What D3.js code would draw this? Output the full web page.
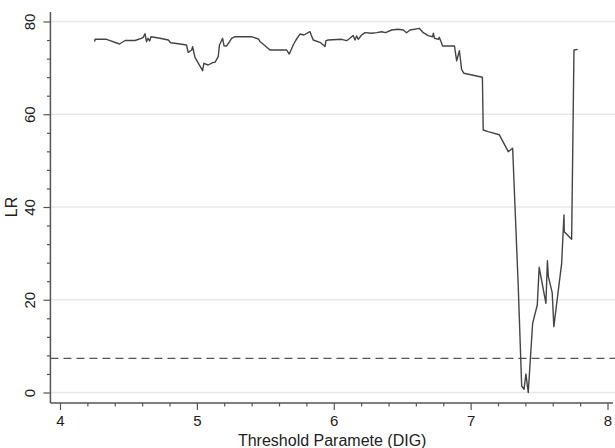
<!DOCTYPE html>
<html>
<head>
<meta charset="utf-8">
<script src="https://cdn.jsdelivr.net/npm/d3@7"></script>
<style>
  body { margin: 0; background: #fff; }
  text { font-family: "Liberation Sans", Arial, sans-serif; fill: #222; }
</style>
</head>
<body>
<svg id="chart" width="615" height="448"></svg>
<script>
// threshold values (x) and LR statistic (y)
var thresholds = [4.253, 4.256, 4.340, 4.435, 4.476, 4.548, 4.594, 4.608, 4.621, 4.632,
  4.643, 4.655, 4.665, 4.730, 4.791, 4.809, 4.877, 4.924, 4.937, 4.962,
  4.969, 4.986, 5.042, 5.051, 5.083, 5.115, 5.132, 5.156, 5.165, 5.188,
  5.198, 5.218, 5.254, 5.278, 5.400, 5.449, 5.461, 5.534, 5.656, 5.675,
  5.704, 5.724, 5.753, 5.782, 5.826, 5.850, 5.904, 5.936, 5.943, 5.960,
  6.058, 6.094, 6.118, 6.142, 6.155, 6.167, 6.179, 6.204, 6.228, 6.277,
  6.313, 6.350, 6.379, 6.423, 6.471, 6.508, 6.532, 6.557, 6.625, 6.654,
  6.690, 6.722, 6.728, 6.736, 6.765, 6.771, 6.788, 6.795, 6.882, 6.898,
  6.918, 6.934, 6.951, 7.044, 7.086, 7.092, 7.128, 7.209, 7.275, 7.307,
  7.348, 7.373, 7.390, 7.404, 7.421, 7.453, 7.487, 7.501, 7.550, 7.561,
  7.568, 7.596, 7.608, 7.665, 7.682, 7.684, 7.738, 7.755, 7.782];

var lrValues = [75.65, 76.16, 76.16, 75.15, 75.90, 75.90, 76.38, 76.59, 77.36, 75.65,
  76.38, 75.80, 76.70, 76.38, 76.01, 75.43, 75.15, 74.93, 73.36, 73.85,
  74.56, 72.28, 69.39, 70.99, 70.62, 71.12, 71.20, 72.41, 74.93, 76.38,
  74.78, 74.72, 76.38, 76.72, 76.72, 76.23, 75.70, 73.85, 73.85, 72.99,
  74.93, 76.01, 77.30, 77.09, 77.80, 76.01, 75.43, 74.60, 75.86, 76.01,
  76.16, 75.86, 76.38, 77.00, 76.01, 76.87, 76.16, 77.09, 77.59, 77.46,
  77.59, 77.80, 77.59, 78.17, 78.32, 78.17, 77.59, 78.17, 78.53, 77.59,
  76.94, 76.72, 77.46, 76.38, 76.16, 76.59, 75.30, 74.72, 74.72, 71.50,
  73.70, 69.69, 68.83, 68.25, 67.97, 56.60, 56.24, 55.59, 51.93, 52.66,
  22.81, 1.40, 0.69, 3.99, 0.00, 14.92, 18.87, 27.00, 19.23, 28.42,
  24.97, 21.52, 14.19, 27.86, 38.27, 34.67, 33.03, 73.85, 73.98];

var criticalValue = 7.35;

var xTicks = [4, 5, 6, 7, 8];
var yTicks = [0, 20, 40, 60, 80];
var xMinor = d3.range(4.2, 8, 0.2).map(function(d) { return +d.toFixed(1); })
  .filter(function(d) { return xTicks.indexOf(d) < 0; });
var yMinor = d3.range(4, 80, 4).filter(function(d) { return d % 20 !== 0; });

var svg = d3.select("#chart");

var x = d3.scaleLinear().domain([4, 8]).range([60, 607.5]);
var y = d3.scaleLinear().domain([0, 80]).range([392.5, 21.5]);

var plotLeft = x(3.93), plotRight = x(8.04), plotTop = y(82.05), plotBottom = y(-2.26);

// grid lines
svg.append("g").selectAll("line")
  .data(yTicks)
  .enter().append("line")
    .attr("x1", plotLeft).attr("x2", 615)
    .attr("y1", function(d) { return y(d); })
    .attr("y2", function(d) { return y(d); })
    .attr("stroke", "#e8e8e8")
    .attr("stroke-width", 1.5);

// critical value
svg.append("line")
    .attr("x1", plotLeft).attr("x2", 615)
    .attr("y1", y(criticalValue)).attr("y2", y(criticalValue))
    .attr("stroke", "#555")
    .attr("stroke-width", 1.3)
    .attr("stroke-dasharray", "8,5");

// LR line
var line = d3.line()
    .x(function(d) { return x(d[0]); })
    .y(function(d) { return y(d[1]); });

svg.append("path")
    .datum(d3.zip(thresholds, lrValues))
    .attr("fill", "none")
    .attr("stroke", "#444")
    .attr("stroke-width", 1.4)
    .attr("stroke-linejoin", "round")
    .attr("d", line);

// axes
var gxMinor = svg.append("g").attr("transform", "translate(0," + plotBottom + ")")
    .call(d3.axisBottom(x).tickValues(xMinor).tickSize(3.5).tickFormat(""));
var gx = svg.append("g").attr("transform", "translate(0," + plotBottom + ")")
    .call(d3.axisBottom(x).tickValues(xTicks).tickSize(7).tickPadding(5).tickFormat(d3.format("d")));

var gyMinor = svg.append("g").attr("transform", "translate(" + plotLeft + ",0)")
    .call(d3.axisLeft(y).tickValues(yMinor).tickSize(3.5).tickFormat(""));
var gy = svg.append("g").attr("transform", "translate(" + plotLeft + ",0)")
    .call(d3.axisLeft(y).tickValues(yTicks).tickSize(7).tickFormat(d3.format("d")));

svg.selectAll(".domain").remove();
svg.selectAll(".tick line").attr("stroke", "#555").attr("stroke-width", 1.2);

gx.selectAll("text").attr("font-size", 15).attr("fill", "#222")
  .attr("font-family", "Liberation Sans, Arial, sans-serif");

gy.selectAll("text")
    .attr("x", null).attr("dy", null)
    .attr("text-anchor", "middle")
    .attr("transform", "translate(-15,0) rotate(-90)")
    .attr("font-size", 15).attr("fill", "#222")
    .attr("font-family", "Liberation Sans, Arial, sans-serif");

svg.append("line")
    .attr("x1", plotLeft).attr("x2", plotRight)
    .attr("y1", plotBottom).attr("y2", plotBottom)
    .attr("stroke", "#555").attr("stroke-width", 1.5);

svg.append("line")
    .attr("x1", plotLeft).attr("x2", plotLeft)
    .attr("y1", plotTop).attr("y2", plotBottom)
    .attr("stroke", "#555").attr("stroke-width", 1.5);

// titles
svg.append("text")
    .attr("x", (plotLeft + plotRight) / 2 + 0.5)
    .attr("y", 446)
    .attr("text-anchor", "middle")
    .attr("font-size", 16)
    .text("Threshold Paramete (DIG)");

svg.append("text")
    .attr("transform", "translate(17," + y(40) + ") rotate(-90)")
    .attr("text-anchor", "middle")
    .attr("font-size", 16)
    .text("LR");
</script>
</body>
</html>
